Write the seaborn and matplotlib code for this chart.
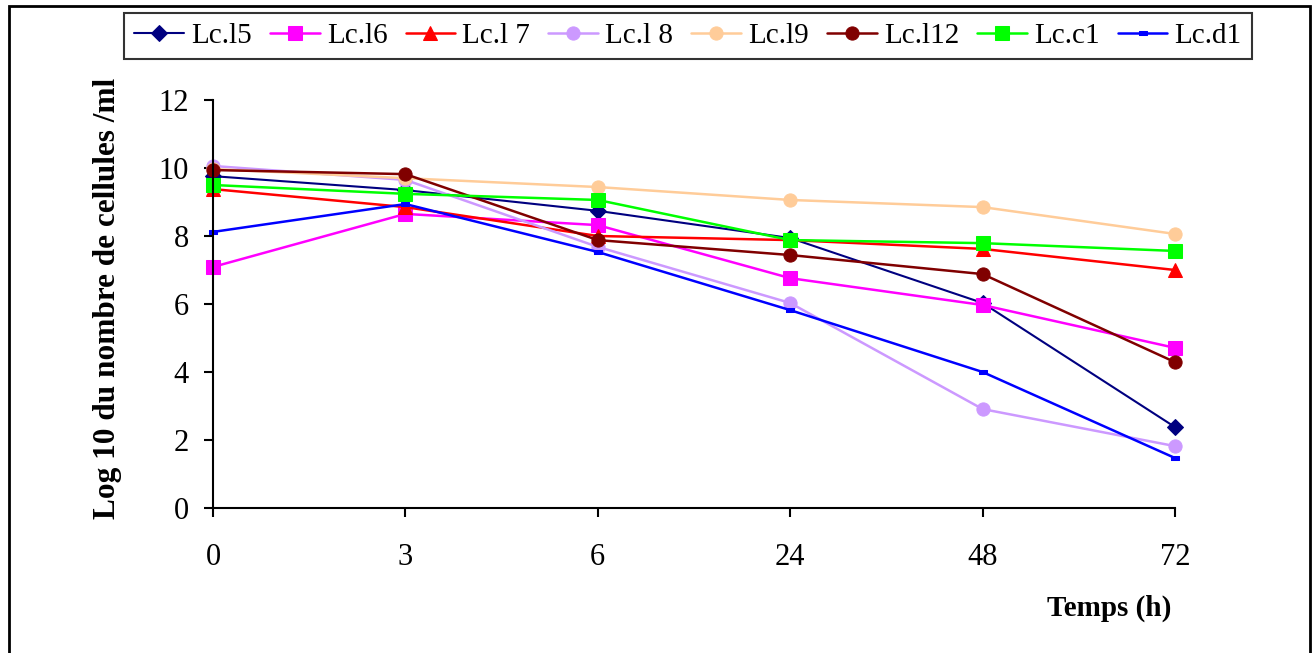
import matplotlib
matplotlib.use("Agg")
import matplotlib.pyplot as plt
from matplotlib.patches import Rectangle
import seaborn as sns
import pandas as pd

# ---- data ----
times = ["0", "3", "6", "24", "48", "72"]
series_names = ["Lc.l5", "Lc.l6", "Lc.l 7", "Lc.l 8", "Lc.l9", "Lc.l12", "Lc.c1", "Lc.d1"]
lc_l5 = [9.76, 9.35, 8.74, 7.94, 6.03, 2.38]
lc_l6 = [7.09, 8.65, 8.32, 6.76, 5.97, 4.71]
lc_l7 = [9.38, 8.85, 8.00, 7.88, 7.62, 7.00]
lc_l8 = [10.06, 9.65, 7.68, 6.03, 2.91, 1.82]
lc_l9 = [9.97, 9.70, 9.44, 9.06, 8.85, 8.06]
lc_l12 = [9.94, 9.82, 7.88, 7.44, 6.88, 4.29]
lc_c1 = [9.50, 9.24, 9.06, 7.88, 7.79, 7.56]
lc_d1 = [8.12, 8.94, 7.53, 5.82, 4.00, 1.47]
values = [lc_l5, lc_l6, lc_l7, lc_l8, lc_l9, lc_l12, lc_c1, lc_d1]
yticks = [0, 2, 4, 6, 8, 10, 12]

# ---- styles ----
colors = ["#000080", "#FF00FF", "#FF0000", "#CC99FF", "#FFCC99", "#800000", "#00FF00", "#0000FF"]
dash_marker = [(-1, -0.45), (1, -0.45), (1, 0.45), (-1, 0.45), (-1, -0.45)]
markers = ["D", "s", "^", "o", "o", "o", "s", dash_marker]
msizes = [8.5, 9.5, 9.5, 9.5, 9.5, 9.5, 9.5, 6]
lwidths = [1.5, 1.8, 1.8, 1.8, 1.8, 1.8, 1.8, 1.8]

sns.set_style("ticks")
plt.rcParams["font.family"] = ["Liberation Serif", "DejaVu Serif"]
plt.rcParams["text.color"] = "black"
plt.rcParams["axes.labelcolor"] = "black"
plt.rcParams["xtick.color"] = "black"
plt.rcParams["ytick.color"] = "black"

fig = plt.figure(figsize=(13.15, 6.53), dpi=100)
ax = fig.add_axes([213 / 1315, 1 - 508 / 653, (1175 - 213) / 1315, (508 - 100) / 653])

for name, vals, c, m, ms, lw in zip(series_names, values, colors, markers, msizes, lwidths):
    df = pd.DataFrame({"Temps": times, "val": vals})
    sns.lineplot(data=df, x="Temps", y="val", ax=ax, color=c, marker=m,
                 markersize=ms, markeredgecolor=c, linewidth=lw, label=name,
                 clip_on=False, sort=False)

ax.set_xlim(0, 5)
ax.set_ylim(0, 12)
ax.set_yticks(yticks)
ax.set_yticklabels([str(t) for t in yticks])
ax.set_xlabel("")
ax.set_ylabel("")
sns.despine(ax=ax)
for s in ["left", "bottom"]:
    ax.spines[s].set_linewidth(1.5)
    ax.spines[s].set_color("black")
ax.tick_params(axis="both", direction="out", length=6.5, width=1.5, colors="black",
               labelcolor="black", labelsize=22)
ax.tick_params(axis="y", pad=11)
ax.tick_params(axis="x", pad=19)

ax.get_legend().remove()
handles, labels = ax.get_legend_handles_labels()
leg = fig.legend(handles, labels, loc="center", bbox_to_anchor=(688 / 1315, 1 - 36 / 653),
                 ncol=8, fontsize=21, frameon=True, fancybox=False, edgecolor="black",
                 handlelength=1.7, handletextpad=0.25, columnspacing=0.62,
                 borderpad=0.35, borderaxespad=0)
leg.get_frame().set_linewidth(1.5)
for t in leg.get_texts():
    t.set_color("black")

fig.text(108 / 1315, 1 - 298 / 653, "Log 10 du nombre de cellules /ml", rotation=90,
         ha="center", va="center", fontsize=22.5, fontweight="bold", color="black")
fig.text(1109 / 1315, 1 - 608 / 653, "Temps (h)", ha="center", va="center",
         fontsize=21, fontweight="bold", color="black")

fig.patches.append(Rectangle((9 / 1315, -0.05), (1310 - 9) / 1315, 1 - 6 / 653 + 0.05,
                             transform=fig.transFigure, fill=False, edgecolor="black",
                             linewidth=2))

fig.savefig("out.png", dpi=100)
